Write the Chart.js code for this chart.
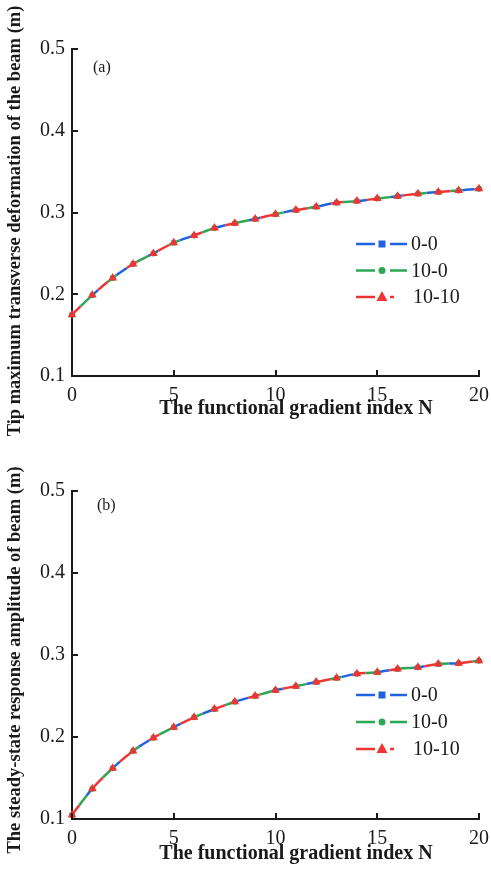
<!DOCTYPE html>
<html>
<head>
<meta charset="utf-8">
<script src="https://cdn.jsdelivr.net/npm/chart.js@4.4.1/dist/chart.umd.min.js"></script>
<style>
  html, body { margin: 0; padding: 0; background: #fff; }
  .box { position: absolute; left: 0; width: 491px; }
</style>
</head>
<body>
<div class="box" style="top:0;height:440px"><canvas id="c1"></canvas></div>
<div class="box" style="top:440px;height:441px"><canvas id="c2"></canvas></div>
<script>
// ---------- data ----------
const N = [0,1,2,3,4,5,6,7,8,9,10,11,12,13,14,15,16,17,18,19,20];
const seriesNames = ['0-0', '10-0', '10-10'];
const xTicks = [0, 5, 10, 15, 20];
const yTicks = [0.1, 0.2, 0.3, 0.4, 0.5];

// (a) tip maximum transverse deformation (m)
const defA_00   = [0.175,0.199,0.220,0.237,0.250,0.263,0.272,0.281,0.287,0.292,0.298,0.303,0.307,0.312,0.314,0.317,0.320,0.323,0.325,0.327,0.329];
const defA_100  = [0.175,0.199,0.220,0.237,0.250,0.263,0.272,0.281,0.287,0.292,0.298,0.303,0.307,0.312,0.314,0.317,0.320,0.323,0.325,0.327,0.329];
const defA_1010 = [0.175,0.199,0.220,0.237,0.250,0.263,0.272,0.281,0.287,0.292,0.298,0.303,0.307,0.312,0.314,0.317,0.320,0.323,0.325,0.327,0.329];

// (b) steady-state response amplitude (m)
const ampB_00   = [0.105,0.137,0.162,0.183,0.199,0.212,0.224,0.234,0.243,0.250,0.257,0.262,0.267,0.272,0.277,0.279,0.283,0.285,0.289,0.290,0.293];
const ampB_100  = [0.105,0.137,0.162,0.183,0.199,0.212,0.224,0.234,0.243,0.250,0.257,0.262,0.267,0.272,0.277,0.279,0.283,0.285,0.289,0.290,0.293];
const ampB_1010 = [0.105,0.137,0.162,0.183,0.199,0.212,0.224,0.234,0.243,0.250,0.257,0.262,0.267,0.272,0.277,0.279,0.283,0.285,0.289,0.290,0.293];

// ---------- styles ----------
const BLUE = '#1f63e0', GREEN = '#2ea653', RED = '#ee3434';
const SERIF = '"Liberation Serif", "Times New Roman", serif';
const INK = '#1a1a1a';

function pts(vals) { return N.map((n, i) => ({ x: n, y: vals[i] })); }

function datasets(a, b, c) {
  return [
    { label: seriesNames[0], data: pts(a), borderColor: BLUE, backgroundColor: BLUE,
      borderWidth: 2.5, borderDash: [12, 24], borderDashOffset: 12,
      pointStyle: 'rect', pointRadius: 3, pointBorderWidth: 0, order: 3 },
    { label: seriesNames[1], data: pts(b), borderColor: GREEN, backgroundColor: GREEN,
      borderWidth: 2.5, borderDash: [12, 24], borderDashOffset: 24,
      pointStyle: 'circle', pointRadius: 3, pointBorderWidth: 0, order: 2 },
    { label: seriesNames[2], data: pts(c), borderColor: RED, backgroundColor: RED,
      borderWidth: 2.5, borderDash: [12, 24], borderDashOffset: 0,
      pointStyle: 'triangle', pointRadius: 5, pointBorderWidth: 0, order: 1 }
  ];
}

const decor = {
  id: 'decor',
  afterDraw(chart, args, opts) {
    const ctx = chart.ctx;
    const xs = chart.scales.x, ys = chart.scales.y;
    const area = chart.chartArea;
    ctx.save();
    // inward ticks
    ctx.strokeStyle = INK; ctx.lineWidth = 2; ctx.setLineDash([]);
    ys.ticks.forEach(t => {
      const y = Math.round(ys.getPixelForValue(t.value));
      ctx.beginPath(); ctx.moveTo(area.left, y); ctx.lineTo(area.left + 6, y); ctx.stroke();
    });
    xs.ticks.forEach(t => {
      const x = Math.round(xs.getPixelForValue(t.value));
      ctx.beginPath(); ctx.moveTo(x, area.bottom); ctx.lineTo(x, area.bottom - 6); ctx.stroke();
    });
    // panel label
    ctx.fillStyle = INK;
    ctx.font = '16px ' + SERIF;
    ctx.textAlign = 'left'; ctx.textBaseline = 'middle';
    ctx.fillText(opts.panel, opts.panelX, opts.panelY);
    // axis titles
    ctx.font = 'bold 20px ' + SERIF;
    ctx.textAlign = 'center';
    ctx.fillText(opts.xTitle, opts.xTitleX, opts.xTitleY);
    ctx.save();
    ctx.translate(opts.yTitleX, opts.yTitleY);
    ctx.rotate(-Math.PI / 2);
    ctx.font = 'bold 18.5px ' + SERIF;
    ctx.fillText(opts.yTitle, 0, 0);
    ctx.restore();
    // legend
    const ds = chart.data.datasets;
    ds.forEach((d, i) => {
      const y = opts.legY + i * opts.legStep;
      const x0 = opts.legX, x1 = opts.legX + 51, mx = opts.legX + 26;
      ctx.strokeStyle = d.borderColor; ctx.lineWidth = 2.5;
      ctx.beginPath();
      ctx.moveTo(x0, y); ctx.lineTo(mx - 7, y);
      ctx.moveTo(mx + 8, y); ctx.lineTo(i === 2 ? mx + 12 : x1, y);
      ctx.stroke();
      ctx.fillStyle = d.borderColor;
      if (d.pointStyle === 'rect') ctx.fillRect(mx - 3.5, y - 3.5, 7, 7);
      else if (d.pointStyle === 'circle') { ctx.beginPath(); ctx.arc(mx, y, 3.5, 0, Math.PI * 2); ctx.fill(); }
      else { ctx.beginPath(); ctx.moveTo(mx, y - 6); ctx.lineTo(mx + 5.5, y + 4); ctx.lineTo(mx - 5.5, y + 4); ctx.closePath(); ctx.fill(); }
      ctx.fillStyle = INK;
      ctx.font = '20px ' + SERIF;
      ctx.textAlign = 'left'; ctx.textBaseline = 'middle';
      ctx.fillText(d.label, i === 2 ? x1 + 6 : x1 + 4, y + 1);
    });
    ctx.restore();
  }
};

function makeChart(id, sets, xAxisH, padTop, decorOpts) {
  return new Chart(document.getElementById(id), {
    type: 'line',
    data: { datasets: sets },
    options: {
      responsive: true, maintainAspectRatio: false, animation: false,
      layout: { padding: { top: padTop, right: 12, left: 0, bottom: 0 } },
      elements: { line: { tension: 0.3 } },
      clip: false,
      plugins: { legend: { display: false }, tooltip: { enabled: false }, decor: decorOpts },
      scales: {
        x: {
          type: 'linear', min: 0, max: 20,
          afterFit: s => { s.height = xAxisH; s.paddingLeft = 0; s.paddingRight = 0; },
          afterBuildTicks: s => { s.ticks = xTicks.map(v => ({ value: v })); },
          grid: { display: false, drawTicks: false },
          border: { display: true, color: INK, width: 2 },
          ticks: { color: INK, padding: 8, font: { family: SERIF, size: 20 }, maxRotation: 0 }
        },
        y: {
          type: 'linear', min: 0.1, max: 0.5,
          afterFit: s => { s.width = 72; },
          afterBuildTicks: s => { s.ticks = yTicks.map(v => ({ value: v })); },
          grid: { display: false, drawTicks: false },
          border: { display: true, color: INK, width: 2 },
          ticks: { color: INK, padding: 7, font: { family: SERIF, size: 20 },
                   callback: v => Number(v).toFixed(1) }
        }
      }
    },
    plugins: [decor]
  });
}

makeChart('c1', datasets(defA_00, defA_100, defA_1010), 64, 49, {
  panel: '(a)', panelX: 93, panelY: 68,
  xTitle: 'The functional gradient index N', xTitleX: 296, xTitleY: 409,
  yTitle: 'Tip maximum transverse deformation of the beam (m)', yTitleX: 15, yTitleY: 221,
  legX: 356, legY: 244, legStep: 26.5
});
makeChart('c2', datasets(ampB_00, ampB_100, ampB_1010), 62, 51, {
  panel: '(b)', panelX: 97, panelY: 66,
  xTitle: 'The functional gradient index N', xTitleX: 296, xTitleY: 414,
  yTitle: 'The steady-state response amplitude of beam (m)', yTitleX: 15, yTitleY: 220,
  legX: 356, legY: 255, legStep: 27
});
</script>
</body>
</html>
